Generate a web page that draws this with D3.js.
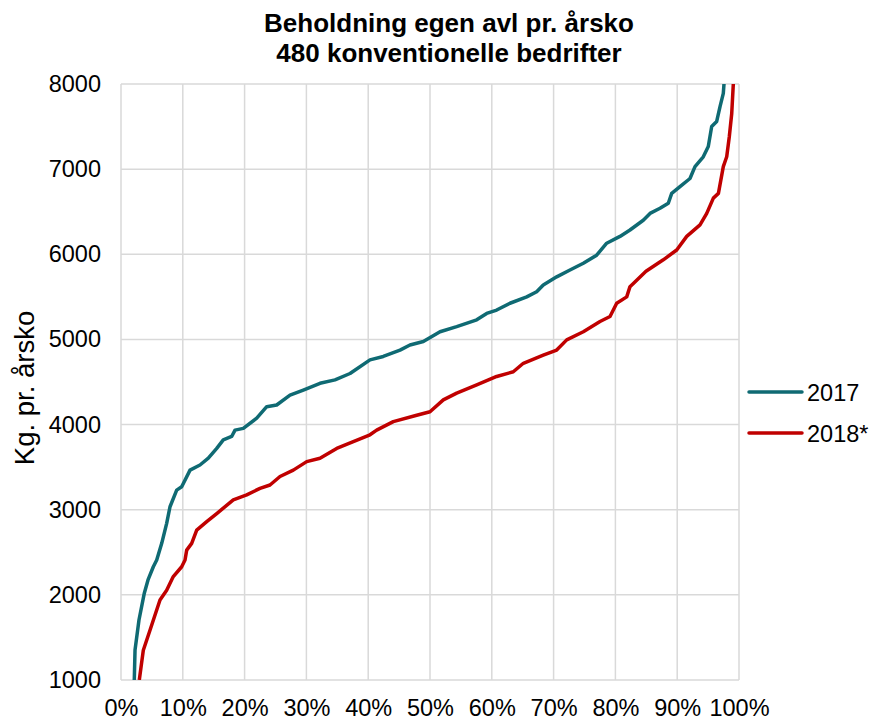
<!DOCTYPE html>
<html>
<head>
<meta charset="utf-8">
<script src="https://cdn.jsdelivr.net/npm/d3@7"></script>
<style>
  body { margin: 0; background: #fff; }
  text { font-family: "Liberation Sans", Arial, sans-serif; fill: #000; }
</style>
</head>
<body>
<div id="chart"></div>
<script>
// percentile of farms (x, %) and kg per cow (y)
const pct2017 = [2.15, 2.27, 2.91, 3.77, 4.37, 5.23, 5.78, 6.59, 7.39, 7.93, 9.01, 9.82, 11.17, 12.78,
  14.13, 15.49, 16.55, 17.91, 18.45, 19.79, 21.96, 23.58, 25.19, 27.35, 29.5, 32.2, 34.63, 37.06,
  40.29, 42.44, 45.15, 46.76, 48.92, 51.62, 54.32, 57.56, 59.17, 60.79, 62.94, 65.65, 67.26, 68.33,
  70.5, 72.65, 74.81, 76.97, 78.59, 80.74, 82.36, 84.51, 85.6, 87.22, 88.56, 89.11, 90.45, 92.07,
  92.88, 94.22, 95.03, 95.58, 96.39, 96.93, 97.46, 97.57, 97.8];
const val2017 = [1000, 1352, 1705, 2020, 2175, 2330, 2410, 2605, 2840, 3035, 3230, 3270, 3465, 3525,
  3605, 3720, 3820, 3860, 3935, 3955, 4075, 4210, 4230, 4345, 4405, 4485, 4525, 4600,
  4760, 4800, 4875, 4935, 4975, 5090, 5150, 5230, 5305, 5345, 5425, 5500, 5560, 5640,
  5735, 5815, 5895, 5990, 6130, 6210, 6285, 6400, 6480, 6540, 6600, 6715, 6795, 6890,
  7030, 7145, 7265, 7500, 7560, 7735, 7890, 8000, 8400];

const pct2018 = [2.96, 3.61, 4.69, 6.31, 7.39, 8.46, 9.82, 10.36, 10.63, 11.44, 12.25, 13.87, 15.49,
  18.17, 20.34, 22.49, 24.11, 25.73, 27.88, 30.05, 32.2, 34.9, 37.59, 40.29, 41.37, 44.06, 47.85,
  50.0, 52.15, 54.32, 57.56, 60.79, 63.48, 65.1, 68.33, 70.5, 72.12, 74.81, 77.51, 79.13, 80.21,
  81.83, 82.36, 84.95, 87.75, 89.92, 91.54, 93.69, 94.78, 95.85, 96.67, 97.46, 98.01, 98.43,
  98.82, 99.08, 99.2];
const val2018 = [1000, 1350, 1585, 1940, 2055, 2215, 2330, 2410, 2525, 2605, 2760, 2860, 2955,
  3115, 3175, 3250, 3290, 3390, 3465, 3565, 3605, 3720, 3800, 3880, 3935, 4035, 4110,
  4150, 4290, 4370, 4465, 4565, 4620, 4720, 4815, 4875, 4995, 5090, 5210, 5270, 5425,
  5500, 5620, 5800, 5935, 6050, 6210, 6345, 6480, 6660, 6715, 7030, 7145, 7380,
  7650, 8000, 8400];

const seriesNames = ["2017", "2018*"];
const seriesColors = ["#0f6a73", "#c00000"];
const xTicks = [0, 10, 20, 30, 40, 50, 60, 70, 80, 90, 100];
const yTicks = [1000, 2000, 3000, 4000, 5000, 6000, 7000, 8000];
const titleLines = ["Beholdning egen avl pr. årsko", "480 konventionelle bedrifter"];
const yTitle = "Kg. pr. årsko";

const W = 870, H = 721;
const margin = {top: 84, right: 131, bottom: 41, left: 121};
const width = W - margin.left - margin.right;
const height = H - margin.top - margin.bottom;

const svg = d3.select("#chart").append("svg")
    .attr("width", W)
    .attr("height", H);

const g = svg.append("g")
    .attr("transform", "translate(" + margin.left + "," + margin.top + ")");

const x = d3.scaleLinear().domain([0, 100]).range([0, width]);
const y = d3.scaleLinear().domain([1000, 8000]).range([height, 0]);

// grid
g.append("g").selectAll("line")
    .data(xTicks)
    .enter().append("line")
    .attr("x1", d => x(d)).attr("x2", d => x(d))
    .attr("y1", 0).attr("y2", height)
    .attr("stroke", "#d9d9d9").attr("stroke-width", 1.5);

g.append("g").selectAll("line")
    .data(yTicks)
    .enter().append("line")
    .attr("x1", 0).attr("x2", width)
    .attr("y1", d => y(d)).attr("y2", d => y(d))
    .attr("stroke", "#d9d9d9").attr("stroke-width", 1.5);

// axes (labels only)
const axisX = d3.axisBottom(x).tickValues(xTicks).tickSize(0).tickPadding(19)
    .tickFormat(d => d + "%");
const gx = g.append("g")
    .attr("transform", "translate(0," + height + ")")
    .call(axisX);
gx.select(".domain").remove();
gx.selectAll("text").style("font-size", "23.5px").style("font-family", "Liberation Sans, Arial, sans-serif");

const axisY = d3.axisLeft(y).tickValues(yTicks).tickSize(0).tickPadding(20)
    .tickFormat(d3.format("d"));
const gy = g.append("g").call(axisY);
gy.select(".domain").remove();
gy.selectAll("text").style("font-size", "23.5px").style("font-family", "Liberation Sans, Arial, sans-serif");

// lines
svg.append("clipPath").attr("id", "clip")
    .append("rect").attr("x", 0).attr("y", 0).attr("width", width).attr("height", height);

const line = d3.line()
    .x(d => x(d[0]))
    .y(d => y(d[1]));

const series = [
    d3.zip(pct2017, val2017),
    d3.zip(pct2018, val2018)
];

g.append("g").attr("clip-path", "url(#clip)")
    .selectAll("path")
    .data(series)
    .enter().append("path")
    .attr("d", line)
    .attr("fill", "none")
    .attr("stroke", (d, i) => seriesColors[i])
    .attr("stroke-width", 3.5)
    .attr("stroke-linejoin", "round");

// title
svg.append("text")
    .attr("text-anchor", "middle")
    .style("font-size", "26px")
    .style("font-weight", "bold")
    .selectAll("tspan")
    .data(titleLines)
    .enter().append("tspan")
    .attr("x", 449)
    .attr("y", (d, i) => 32 + i * 30)
    .text(d => d);

// y title
svg.append("text")
    .attr("transform", "translate(34,388)rotate(-90)")
    .attr("text-anchor", "middle")
    .style("font-size", "27.5px")
    .text(yTitle);

// legend
const legend = svg.append("g").selectAll("g")
    .data(seriesNames)
    .enter().append("g")
    .attr("transform", (d, i) => "translate(749," + (392 + i * 41) + ")");

legend.append("line")
    .attr("x1", 0).attr("x2", 53)
    .attr("stroke", (d, i) => seriesColors[i])
    .attr("stroke-width", 3.5)
    .attr("stroke-linecap", "round");

legend.append("text")
    .attr("x", 58).attr("y", 8.5)
    .style("font-size", "23.5px")
    .text(d => d);
</script>
</body>
</html>
